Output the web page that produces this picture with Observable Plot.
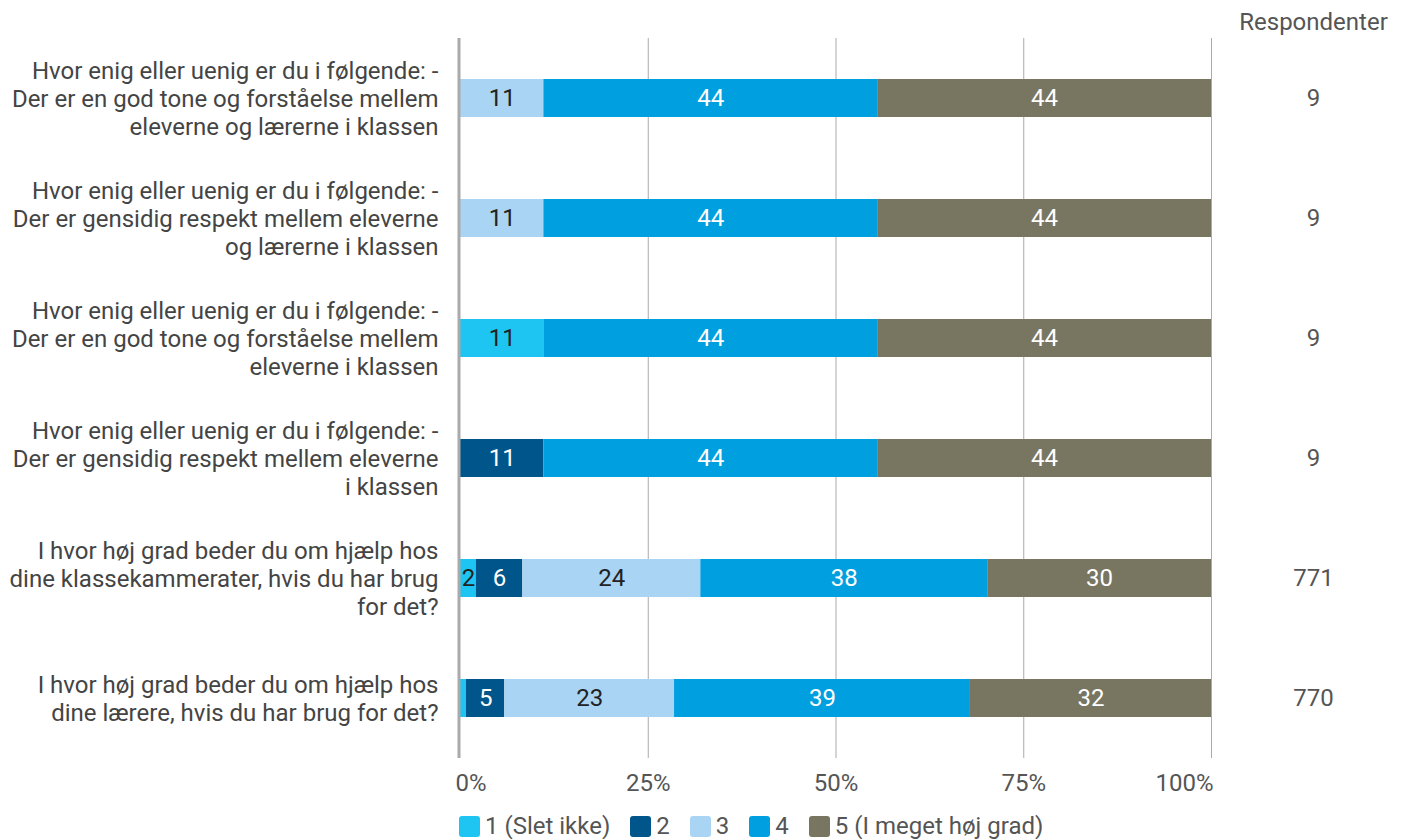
<!DOCTYPE html>
<html>
<head>
<meta charset="utf-8">
<script src="https://cdn.jsdelivr.net/npm/d3@7"></script>
<script src="https://cdn.jsdelivr.net/npm/@observablehq/plot@0.6"></script>
<style>
  body { margin: 0; background: #fff; font-family: Roboto, "Open Sans", sans-serif; }
  #legend { display: flex; gap: 20px; padding-left: 459px; padding-top: 13px; height: 26px; font-size: 24px; color: #555; line-height: 24px; }
  #legend .item { display: flex; align-items: center; gap: 5px; }
  #legend .sw { width: 21px; height: 21px; border-radius: 3px; display: inline-block; }
</style>
</head>
<body>
<div id="chart"></div>
<div id="legend"></div>
<script>
const questions = [
  "Hvor enig eller uenig er du i følgende: -\nDer er en god tone og forståelse mellem\neleverne og lærerne i klassen",
  "Hvor enig eller uenig er du i følgende: -\nDer er gensidig respekt mellem eleverne\nog lærerne i klassen",
  "Hvor enig eller uenig er du i følgende: -\nDer er en god tone og forståelse mellem\neleverne i klassen",
  "Hvor enig eller uenig er du i følgende: -\nDer er gensidig respekt mellem eleverne\ni klassen",
  "I hvor høj grad beder du om hjælp hos\ndine klassekammerater, hvis du har brug\nfor det?",
  "I hvor høj grad beder du om hjælp hos\ndine lærere, hvis du har brug for det?"
];
const categories = ["1 (Slet ikke)", "2", "3", "4", "5 (I meget høj grad)"];
const colors = ["#1fc5f2", "#00558b", "#a9d4f4", "#009fe0", "#787561"];
const textColors = ["#222", "#fff", "#222", "#fff", "#fff"];
// percent per category (1..5) for each question
const values = [
  [0, 0, 11.1, 44.45, 44.45],
  [0, 0, 11.1, 44.45, 44.45],
  [11.1, 0, 0, 44.45, 44.45],
  [0, 11.1, 0, 44.45, 44.45],
  [2.1, 6.2, 23.7, 38.2, 29.8],
  [0.8, 5.1, 22.6, 39.4, 32.1]
];
const respondents = [9, 9, 9, 9, 771, 770];
const xTicks = [0, 25, 50, 75, 100];

const data = [];
questions.forEach((q, i) => categories.forEach((c, j) => {
  data.push({question: q, cat: c, ci: j, value: values[i][j]});
}));
const respData = questions.map((q, i) => ({question: q, n: respondents[i]}));

const stackOpts = {x: "value", y: "question", z: "cat", order: categories};
const FS = 24;

const chart = Plot.plot({
  width: 1405,
  height: 800,
  marginTop: 38,
  marginBottom: 42,
  marginLeft: 460,
  marginRight: 194,
  style: {fontFamily: "Roboto, sans-serif", fontSize: FS + "px", background: "#fff"},
  x: {domain: [0, 100], axis: null},
  y: {domain: questions, axis: null, padding: 0},
  color: {domain: categories, range: colors},
  marks: [
    Plot.ruleX([25, 50, 75, 100], {stroke: "#aaa", strokeWidth: 1}),
    Plot.barX(data, Plot.stackX({...stackOpts, fill: "cat", insetTop: 41, insetBottom: 41})),
    Plot.text(data, Plot.stackX({...stackOpts, text: d => d.value >= 1.5 ? Math.round(d.value) : "", fill: d => textColors[d.ci], fontSize: FS})),
    Plot.ruleX([0], {stroke: "#aaa", strokeWidth: 3, dx: -1.5}),
    Plot.text(questions, {x: 0, y: d => d, text: d => d, textAnchor: "end", dx: -22, lineHeight: 28 / FS, fill: "#444", fontSize: FS}),
    Plot.text(respData, {y: "question", text: "n", frameAnchor: "right", dx: 102, textAnchor: "middle", fill: "#555", fontSize: FS}),
    Plot.text(["Respondenter"], {frameAnchor: "top-right", lineAnchor: "middle", dx: 102, dy: -16, textAnchor: "middle", fill: "#555", fontSize: FS}),
    Plot.text(xTicks.filter(t => t === 0), {x: d => d, frameAnchor: "bottom", lineAnchor: "middle", dy: 25, dx: -5, textAnchor: "start", text: d => d + "%", fill: "#555", fontSize: FS}),
    Plot.text(xTicks.filter(t => t > 0 && t < 100), {x: d => d, frameAnchor: "bottom", lineAnchor: "middle", dy: 25, textAnchor: "middle", text: d => d + "%", fill: "#555", fontSize: FS}),
    Plot.text(xTicks.filter(t => t === 100), {x: d => d, frameAnchor: "bottom", lineAnchor: "middle", dy: 25, dx: 2, textAnchor: "end", text: d => d + "%", fill: "#555", fontSize: FS})
  ]
});
document.getElementById("chart").appendChild(chart);

const legend = document.getElementById("legend");
categories.forEach((c, i) => {
  const item = document.createElement("div");
  item.className = "item";
  const sw = document.createElement("span");
  sw.className = "sw";
  sw.style.background = colors[i];
  const t = document.createElement("span");
  t.textContent = c;
  item.appendChild(sw);
  item.appendChild(t);
  legend.appendChild(item);
});
</script>
</body>
</html>
